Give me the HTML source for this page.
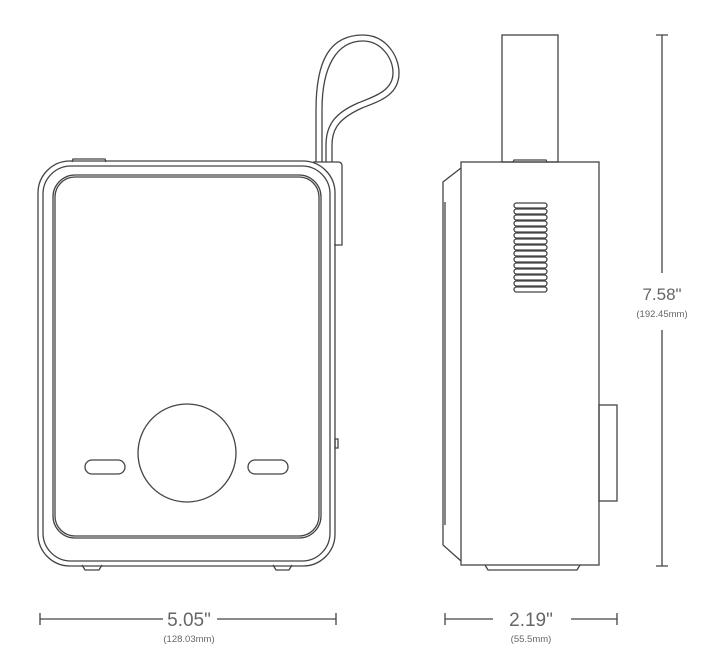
<!DOCTYPE html>
<html><head><meta charset="utf-8"><style>
html,body{margin:0;padding:0;background:#fff}
svg{display:block}
text{font-family:"Liberation Sans",sans-serif;fill:#666;text-anchor:middle}
</style></head><body>
<svg width="720" height="671" viewBox="0 0 720 671" xmlns="http://www.w3.org/2000/svg">
<g fill="none" stroke="#444" stroke-width="1.3">
<!-- strap -->
<path d="M316,162 L316,110 C316,60 330,35 363,35 C385,35 399,55 399,73 C399,95 380,101 362,108 C340,118 332,128 332,145 L332,162"/>
<path d="M322,162 L322,110 C322,66 337,41 363,41 C381,41 393,58 393,73 C393,90 376,96 358,103 C335,113 326,125 326,145 L326,162"/>
<!-- bracket -->
<path d="M313,162 L338,162 Q342,162 342,166 L342,245 L334,245"/>
<!-- top button -->
<path d="M72,162 L73,159 L105,159 L106,162"/>
<!-- front body -->
<rect x="38" y="161" width="297" height="405" rx="32"/>
<rect x="43" y="166" width="287" height="395" rx="28"/>
<rect x="53" y="175" width="268" height="363" rx="22"/>
<rect x="55" y="177" width="264" height="359" rx="20"/>
<ellipse cx="187" cy="453" rx="49" ry="49"/>
<rect x="85" y="460" width="40" height="14" rx="7"/>
<rect x="248" y="460" width="40" height="14" rx="7"/>
<path d="M82,565 L85,570 L99,570 L102,565"/>
<path d="M273,565 L276,570 L289,570 L292,565"/>
<rect x="335" y="439" width="3" height="9"/>
<!-- dims front -->
<path d="M40,613 V625 M40,619 H163 M217,619 H336 M336,613 V625"/>
<!-- side view -->
<rect x="502" y="35" width="56" height="127"/>
<path d="M513,162 L514,160 L546,160 L547,162"/>
<rect x="461" y="162" width="138" height="403"/>
<path d="M461,168 L443,182 L443,545 L461,561"/>
<path d="M445,202 L445,525"/>
<path d="M485,565 L488,570 L577,570 L580,565"/>
<rect x="599" y="405" width="18" height="96"/>
<g>
<rect x="514" y="203" width="33" height="5" rx="2.5"/>
<rect x="514" y="209" width="33" height="5" rx="2.5"/>
<rect x="514" y="215" width="33" height="5" rx="2.5"/>
<rect x="514" y="221" width="33" height="5" rx="2.5"/>
<rect x="514" y="227" width="33" height="5" rx="2.5"/>
<rect x="514" y="233" width="33" height="5" rx="2.5"/>
<rect x="514" y="239" width="33" height="5" rx="2.5"/>
<rect x="514" y="245" width="33" height="5" rx="2.5"/>
<rect x="514" y="251" width="33" height="5" rx="2.5"/>
<rect x="514" y="257" width="33" height="5" rx="2.5"/>
<rect x="514" y="263" width="33" height="5" rx="2.5"/>
<rect x="514" y="269" width="33" height="5" rx="2.5"/>
<rect x="514" y="275" width="33" height="5" rx="2.5"/>
<rect x="514" y="281" width="33" height="5" rx="2.5"/>
<rect x="514" y="287" width="33" height="5" rx="2.5"/>
</g>
<!-- dims side -->
<path d="M445,613 V625 M445,619 H493 M571,619 H617 M617,613 V625"/>
<!-- vertical dim -->
<path d="M656,35 H668 M662,35 V273 M662,330 V566 M656,566 H668"/>
</g>
<text x="189" y="626" font-size="19">5.05"</text>
<text x="189" y="642" font-size="9.5">(128.03mm)</text>
<text x="531" y="626" font-size="19">2.19"</text>
<text x="531" y="642" font-size="9.5">(55.5mm)</text>
<text x="662" y="300" font-size="17">7.58"</text>
<text x="662" y="317" font-size="9.5">(192.45mm)</text>
</svg>
</body></html>
